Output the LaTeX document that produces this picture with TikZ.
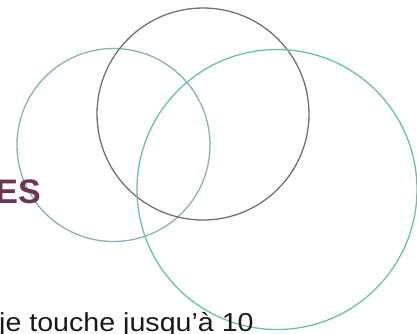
\documentclass[tikz,border=0pt]{standalone}
\usepackage{fontspec}
\setmainfont{Liberation Sans}
\usepackage{xcolor}
\usetikzlibrary{positioning}

\definecolor{ringleft}{HTML}{88B2B2}
\definecolor{ringtop}{HTML}{757069}
\definecolor{ringright}{HTML}{6DBFA5}
\definecolor{plum}{HTML}{6B3556}

\begin{document}
\begin{tikzpicture}[
    x=1pt,y=-1pt,
    ring/.style={line width=1.3pt},
    heading/.style={font=\fontsize{34}{34}\selectfont\bfseries,text=plum,inner sep=0pt},
    body/.style={font=\fontsize{26}{26}\selectfont,text=black!90,inner sep=0pt,xscale=1.1}
  ]
    \useasboundingbox (0,0) rectangle (417,333);
    \draw[ring,draw=ringleft] (113.5,145) circle[radius=96.5pt];
    \draw[ring,draw=ringtop] (203,114) circle[radius=106pt];
    \draw[ring,draw=ringright] (277,189.5) circle[radius=140pt];
    \node[heading,anchor=base east] (es) at (41,203) {ES};
    \node[body,anchor=base west] (txt) at (-1,331) {je touche jusqu’à 10};
  \end{tikzpicture}
\end{document}
